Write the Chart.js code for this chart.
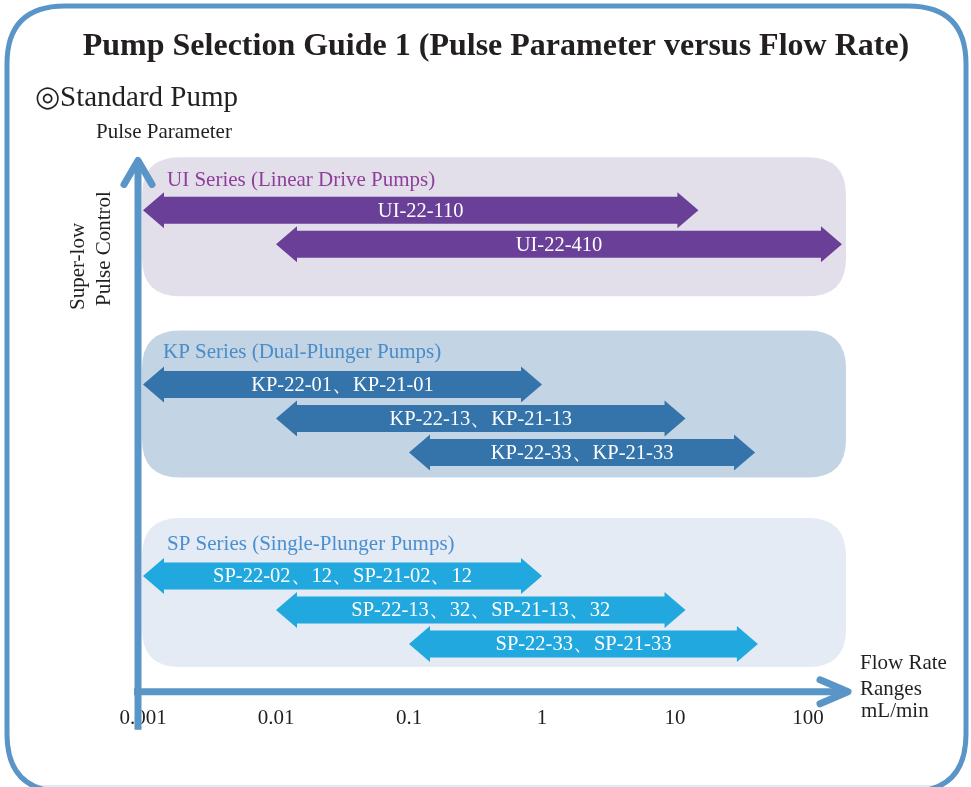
<!DOCTYPE html>
<html>
<head>
<meta charset="utf-8">
<title>Pump Selection Guide 1</title>
<script src="https://cdn.jsdelivr.net/npm/chart.js@4.4.1/dist/chart.umd.min.js"></script>
<style>
  html, body { margin: 0; padding: 0; background: #ffffff; }
  #wrap { width: 971px; height: 787px; }
</style>
</head>
<body>
<div id="wrap"><canvas id="pumpChart" width="971" height="787"></canvas></div>
<script>
// Data
const seriesGroups = [
  "UI Series (Linear Drive Pumps)",
  "KP Series (Dual-Plunger Pumps)",
  "SP Series (Single-Plunger Pumps)"
];
const row1Names = ["UI-22-110", "KP-22-01、KP-21-01", "SP-22-02、12、SP-21-02、12"];
const row1Ranges = [[0.001, 15], [0.001, 1], [0.001, 1]];
const row2Names = ["UI-22-410", "KP-22-13、KP-21-13", "SP-22-13、32、SP-21-13、32"];
const row2Ranges = [[0.01, 180], [0.01, 12], [0.01, 12]];
const row3Names = [null, "KP-22-33、KP-21-33", "SP-22-33、SP-21-33"];
const row3Ranges = [null, [0.1, 40], [0.1, 42]];
const tickValues = [0.001, 0.01, 0.1, 1, 10, 100];

const TEXT = "#231f20";
const SERIF = "'Liberation Serif', 'Times New Roman', serif";
const AXIS_BLUE = "#5a95c8";
const arrowColors = ["#6a3f97", "#3474ab", "#21a8de"];
const boxColors = ["#e2dfea", "#c3d4e4", "#e4ebf5"];
const labelColors = ["#8e3f99", "#4a8cc8", "#4a8fd0"];
const boxOffsets = [[-70, 69], [-88, 59], [-92, 57]];
const labelOffsets = [-47, -66, -66];

function roundRect(ctx, x, y, w, h, r) {
  ctx.beginPath();
  ctx.moveTo(x + r, y);
  ctx.lineTo(x + w - r, y);
  ctx.quadraticCurveTo(x + w, y, x + w, y + r);
  ctx.lineTo(x + w, y + h - r);
  ctx.quadraticCurveTo(x + w, y + h, x + w - r, y + h);
  ctx.lineTo(x + r, y + h);
  ctx.quadraticCurveTo(x, y + h, x, y + h - r);
  ctx.lineTo(x, y + r);
  ctx.quadraticCurveTo(x, y, x + r, y);
  ctx.closePath();
}

// frame, headings, group boxes and axis arrows
const decorPlugin = {
  id: "decor",
  beforeDraw(chart) {
    const ctx = chart.ctx;
    ctx.save();
    ctx.strokeStyle = "#bcd7ee";
    ctx.lineWidth = 1;
    ctx.beginPath();
    ctx.moveTo(40, 786);
    ctx.lineTo(935, 786);
    ctx.stroke();
    ctx.strokeStyle = AXIS_BLUE;
    ctx.lineWidth = 5;
    roundRect(ctx, 7, 6, 959, 786, 58);
    ctx.stroke();

    ctx.fillStyle = TEXT;
    ctx.textBaseline = "middle";
    ctx.textAlign = "left";
    ctx.font = "29px " + SERIF;
    ctx.fillText("◎Standard Pump", 35, 98);
    ctx.font = "21px " + SERIF;
    ctx.fillText("Pulse Parameter", 96, 132);

    // rotated y label
    ctx.save();
    ctx.translate(78, 310);
    ctx.rotate(-Math.PI / 2);
    ctx.font = "21px " + SERIF;
    ctx.fillText("Super-low", 0, 0);
    ctx.restore();
    ctx.save();
    ctx.translate(104, 306);
    ctx.rotate(-Math.PI / 2);
    ctx.font = "21px " + SERIF;
    ctx.fillText("Pulse Control", 0, 0);
    ctx.restore();

    // x axis title
    ctx.font = "21px " + SERIF;
    ctx.fillText("Flow Rate", 860, 663);
    ctx.fillText("Ranges", 860, 689);
    ctx.fillText("mL/min", 861, 711);
    ctx.restore();
  },
  beforeDatasetsDraw(chart) {
    const ctx = chart.ctx;
    const xs = chart.scales.x;
    const ys = chart.scales.y;
    const area = chart.chartArea;
    const left = xs.getPixelForValue(tickValues[0]) - 1;
    const right = area.right - 95;
    ctx.save();
    seriesGroups.forEach((name, i) => {
      const cy = ys.getPixelForValue(i);
      const top = cy + boxOffsets[i][0];
      const bottom = cy + boxOffsets[i][1];
      ctx.fillStyle = boxColors[i];
      roundRect(ctx, left, top, right - left, bottom - top, 38);
      ctx.fill();
      ctx.fillStyle = labelColors[i];
      ctx.font = "21px " + SERIF;
      ctx.textAlign = "left";
      ctx.textBaseline = "middle";
      ctx.fillText(name, left + (i === 1 ? 21 : 25), cy + labelOffsets[i]);
    });

    // axes
    const ax = xs.getPixelForValue(tickValues[0]) - 5;
    const ay = area.bottom - 14;
    const topY = area.top + 29;
    const tipX = area.right - 93;
    ctx.strokeStyle = AXIS_BLUE;
    ctx.lineWidth = 7;
    ctx.lineCap = "butt";
    ctx.beginPath();
    ctx.moveTo(ax, area.bottom + 24);
    ctx.lineTo(ax, topY + 2);
    ctx.moveTo(ax - 4, ay);
    ctx.lineTo(tipX - 2, ay);
    ctx.stroke();
    ctx.lineCap = "round";
    ctx.lineJoin = "round";
    ctx.beginPath();
    ctx.moveTo(ax - 14, topY + 24);
    ctx.lineTo(ax, topY);
    ctx.lineTo(ax + 14, topY + 24);
    ctx.moveTo(tipX - 28, ay - 12);
    ctx.lineTo(tipX, ay);
    ctx.lineTo(tipX - 28, ay + 12);
    ctx.stroke();
    ctx.restore();
  },
  afterDatasetsDraw(chart) {
    const ctx = chart.ctx;
    ctx.save();
    chart.data.datasets.forEach((ds, di) => {
      const meta = chart.getDatasetMeta(di);
      meta.data.forEach((bar, i) => {
        if (ds.data[i] == null) return;
        const p = bar.getProps(["x", "y", "base", "height"], true);
        const x0 = Math.min(p.x, p.base);
        const x1 = Math.max(p.x, p.base);
        const half = p.height / 2 + 1;
        const shaft = 13.5;
        const head = 21;
        ctx.fillStyle = arrowColors[i];
        ctx.beginPath();
        ctx.moveTo(x0, p.y);
        ctx.lineTo(x0 + head, p.y - half);
        ctx.lineTo(x0 + head, p.y - shaft);
        ctx.lineTo(x1 - head, p.y - shaft);
        ctx.lineTo(x1 - head, p.y - half);
        ctx.lineTo(x1, p.y);
        ctx.lineTo(x1 - head, p.y + half);
        ctx.lineTo(x1 - head, p.y + shaft);
        ctx.lineTo(x0 + head, p.y + shaft);
        ctx.lineTo(x0 + head, p.y + half);
        ctx.closePath();
        ctx.fill();
        ctx.fillStyle = "#ffffff";
        ctx.font = "20.5px " + SERIF;
        ctx.textAlign = "center";
        ctx.textBaseline = "middle";
        ctx.fillText(ds.names[i], (x0 + x1) / 2, p.y + 1);
      });
    });
    ctx.restore();
  }
};

function makeRow(label, names, ranges) {
  return {
    label: label,
    names: names,
    data: ranges,
    backgroundColor: "rgba(0,0,0,0)",
    borderWidth: 0,
    barThickness: 34,
    skipNull: true
  };
}

new Chart(document.getElementById("pumpChart"), {
  type: "bar",
  data: {
    labels: seriesGroups,
    datasets: [
      makeRow("Row 1", row1Names, row1Ranges),
      makeRow("Row 2", row2Names, row2Ranges),
      makeRow("Row 3", row3Names, row3Ranges)
    ]
  },
  options: {
    indexAxis: "y",
    responsive: false,
    animation: false,
    layout: { padding: { left: 51, right: 30, top: 0, bottom: 56 } },
    plugins: {
      legend: { display: false },
      tooltip: { enabled: false },
      title: {
        display: true,
        text: "Pump Selection Guide 1 (Pulse Parameter versus Flow Rate)",
        color: TEXT,
        font: { family: SERIF, size: 32, weight: "bold" },
        padding: { top: 28, bottom: 65 }
      }
    },
    scales: {
      x: {
        type: "logarithmic",
        min: 0.001,
        max: 1000,
        grid: { display: false, drawTicks: false },
        border: { display: false },
        afterBuildTicks: (scale) => {
          scale.ticks = tickValues.map((v) => ({ value: v }));
        },
        ticks: {
          color: TEXT,
          padding: 0,
          maxRotation: 0,
          autoSkip: false,
          font: { family: SERIF, size: 21 },
          callback: (v) => String(v)
        }
      },
      y: {
        type: "category",
        display: true,
        grid: { display: false, drawTicks: false },
        border: { display: false },
        ticks: { display: false },
        afterFit: (scale) => { scale.width = 92; }
      }
    }
  },
  plugins: [decorPlugin]
});
</script>
</body>
</html>
